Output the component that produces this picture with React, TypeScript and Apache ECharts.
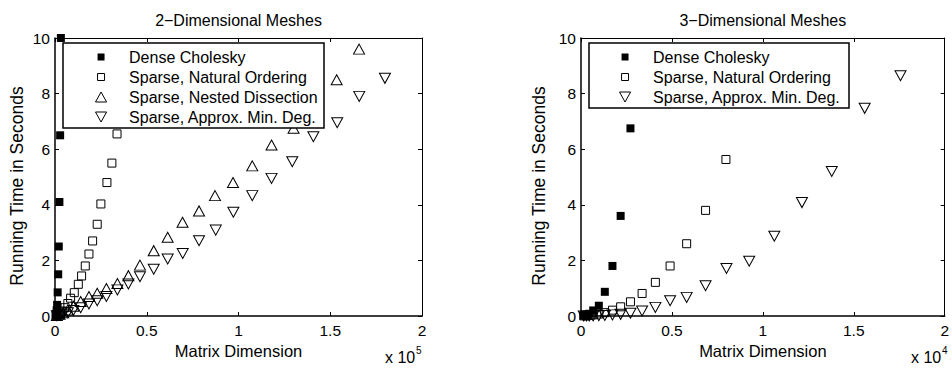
import React, { useEffect, useRef } from "react";
import * as echarts from "echarts";

// ---------- data ----------
const X_TICK_STEP = 0.5; // in units of the axis multiplier
const X_MAX = 2;
const Y_MAX = 10;
const Y_TICK_STEP = 2;

const TITLES = ["2\u2212Dimensional Meshes", "3\u2212Dimensional Meshes"];
const X_NAME = "Matrix Dimension";
const Y_NAME = "Running Time in Seconds";
const SCALES = [1e5, 1e4];
const EXPONENTS = ["5", "4"];

const SERIES_NAMES = [
  "Dense Cholesky",
  "Sparse, Natural Ordering",
  "Sparse, Nested Dissection",
  "Sparse, Approx. Min. Deg.",
];

// 2-D meshes: matrix dimension, running time (s)
const dense2dN = [300, 500, 700, 900, 1150, 1450, 1750, 2050, 2400, 2800, 3200];
const dense2dT = [0.01, 0.03, 0.08, 0.2, 0.4, 0.85, 1.5, 2.5, 4.1, 6.5, 10];

const natural2dN = [1000, 2000, 3000, 4000, 5500, 7000, 8500, 10500, 12700, 14500, 16500, 18500, 20500, 23000, 25000, 28300, 31000, 33800];
const natural2dT = [0.02, 0.05, 0.1, 0.18, 0.3, 0.45, 0.64, 0.84, 1.14, 1.44, 1.8, 2.23, 2.7, 3.3, 4.03, 4.8, 5.5, 6.55];

const nested2dN = [1000, 2500, 4500, 7000, 10000, 14000, 18500, 23000, 28000, 34000, 40000, 46300, 53800, 61400, 69500, 78500, 87200, 97000, 107500, 118000, 130000, 142000, 153500, 165700];
const nested2dT = [0.02, 0.06, 0.12, 0.22, 0.35, 0.52, 0.7, 0.82, 0.99, 1.17, 1.45, 1.83, 2.35, 2.83, 3.37, 3.78, 4.33, 4.8, 5.4, 6.15, 6.75, 7.6, 8.5, 9.6];

const amd2dN = [1000, 2500, 4500, 7000, 10000, 14000, 18500, 23000, 28000, 34000, 40000, 46300, 53800, 61400, 69600, 78500, 87600, 97200, 107500, 118000, 129300, 140800, 153800, 165800, 179800];
const amd2dT = [0.01, 0.03, 0.07, 0.12, 0.2, 0.3, 0.43, 0.55, 0.7, 0.94, 1.15, 1.41, 1.68, 2.05, 2.25, 2.71, 3.09, 3.73, 4.33, 4.95, 5.55, 6.45, 6.95, 7.9, 8.55];

// 3-D meshes
const dense3dN = [150, 300, 450, 670, 980, 1310, 1730, 2180, 2720];
const dense3dT = [0.01, 0.03, 0.08, 0.2, 0.37, 0.87, 1.8, 3.6, 6.75];

const natural3dN = [150, 300, 450, 670, 980, 1310, 1730, 2180, 2720, 3360, 4090, 4900, 5810, 6850, 7970];
const natural3dT = [0.005, 0.01, 0.02, 0.04, 0.07, 0.12, 0.21, 0.33, 0.51, 0.81, 1.21, 1.8, 2.6, 3.8, 5.63];

const amd3dN = [150, 300, 450, 670, 980, 1310, 1730, 2180, 2720, 3360, 4090, 4900, 5810, 6850, 8000, 9250, 10630, 12150, 13790, 15600, 17570];
const amd3dT = [0, 0, 0, 0.005, 0.01, 0.02, 0.04, 0.06, 0.1, 0.18, 0.31, 0.55, 0.67, 1.09, 1.71, 1.97, 2.87, 4.08, 5.2, 7.47, 8.64];

// ---------- helpers ----------
const zip = (xs: number[], ys: number[]) => xs.map((x, i) => [x, ys[i]]);
const FONT = "'Liberation Sans', Arial, Helvetica, sans-serif";
const BLACK = "#000";

const SQUARE = "path://M0,0h10v10h-10z";
const SQUARE_LEGEND = "path://M-1.5,-1.5M0,0h7v7h-7zM8.5,8.5";
const TRI_UP = "path://M5,0L10,9L0,9Z";
const TRI_DOWN = "path://M0,0L10,0L5,9Z";

const openStyle = { color: "rgba(0,0,0,0)", borderColor: BLACK, borderWidth: 1, opacity: 1 };

const SYMBOLS: Record<string, any> = {
  [SERIES_NAMES[0]]: { symbol: SQUARE, symbolSize: 8, itemStyle: { color: BLACK, opacity: 1 } },
  [SERIES_NAMES[1]]: { symbol: SQUARE, symbolSize: 8, itemStyle: openStyle },
  [SERIES_NAMES[2]]: { symbol: TRI_UP, symbolSize: [11, 10], itemStyle: openStyle },
  [SERIES_NAMES[3]]: { symbol: TRI_DOWN, symbolSize: [11, 10], itemStyle: openStyle },
};

const LEGEND_ICONS: Record<string, string> = {
  [SERIES_NAMES[0]]: SQUARE_LEGEND,
  [SERIES_NAMES[1]]: SQUARE_LEGEND,
  [SERIES_NAMES[2]]: TRI_UP,
  [SERIES_NAMES[3]]: TRI_DOWN,
};

const GRIDS = [
  { left: 55, top: 38, width: 367, height: 278 },
  { left: 581, top: 38, width: 367, height: 278 },
];
const Y_NAME_GAPS = [29, 33];

export default function App() {
  const ref = useRef<HTMLDivElement>(null);

  useEffect(() => {
    if (!ref.current) return;
    const chart = echarts.init(ref.current, undefined, { renderer: "svg" });

    const xAxis: any[] = [];
    const yAxis: any[] = [];
    GRIDS.forEach((_, gi) => {
      const s = SCALES[gi];
      const common = {
        gridIndex: gi,
        type: "value",
        min: 0,
        max: X_MAX * s,
        interval: X_TICK_STEP * s,
        splitLine: { show: false },
        axisTick: { inside: true, length: 4, lineStyle: { color: BLACK, width: 1 } },
      };
      xAxis.push({
        ...common,
        position: "bottom",
        axisLine: { onZero: false, lineStyle: { color: BLACK, width: 1.5 } },
        axisLabel: {
          color: BLACK,
          fontSize: 15.5,
          fontFamily: FONT,
          margin: 6,
          formatter: (v: number) => String(Math.round((v / s) * 10) / 10),
        },
        name: X_NAME,
        nameLocation: "middle",
        nameGap: 25,
        nameTextStyle: { color: BLACK, fontSize: 16.5, fontFamily: FONT },
      });
      xAxis.push({
        ...common,
        position: "top",
        axisLine: { onZero: false, lineStyle: { color: BLACK, width: 1 } },
        axisLabel: { show: false },
        name: TITLES[gi],
        nameLocation: "middle",
        nameGap: 10,
        nameTextStyle: { color: BLACK, fontSize: 16, fontFamily: FONT },
      });
      const ycommon = {
        gridIndex: gi,
        type: "value",
        min: 0,
        max: Y_MAX,
        interval: Y_TICK_STEP,
        splitLine: { show: false },
        axisTick: { inside: true, length: 4, lineStyle: { color: BLACK, width: 1 } },
      };
      yAxis.push({
        ...ycommon,
        position: "left",
        axisLine: { onZero: false, lineStyle: { color: BLACK, width: 1.5 } },
        axisLabel: { color: BLACK, fontSize: 15.5, fontFamily: FONT, margin: 5 },
        name: Y_NAME,
        nameLocation: "middle",
        nameGap: Y_NAME_GAPS[gi],
        nameTextStyle: { color: BLACK, fontSize: 17.5, fontFamily: FONT, padding: [0, 18, 0, 0] },
      });
      yAxis.push({
        ...ycommon,
        position: "right",
        axisLine: { onZero: false, lineStyle: { color: BLACK, width: 1 } },
        axisLabel: { show: false },
      });
    });

    const mk = (name: string, gi: number, xs: number[], ys: number[]) => ({
      type: "scatter",
      name,
      xAxisIndex: gi * 2,
      yAxisIndex: gi * 2,
      data: zip(xs, ys),
      clip: false,
      silent: true,
      z: 2,
      ...SYMBOLS[name],
    });

    const series = [
      mk(SERIES_NAMES[0], 0, dense2dN, dense2dT),
      mk(SERIES_NAMES[1], 0, natural2dN, natural2dT),
      mk(SERIES_NAMES[2], 0, nested2dN, nested2dT),
      mk(SERIES_NAMES[3], 0, amd2dN, amd2dT),
      mk(SERIES_NAMES[0], 1, dense3dN, dense3dT),
      mk(SERIES_NAMES[1], 1, natural3dN, natural3dT),
      mk(SERIES_NAMES[3], 1, amd3dN, amd3dT),
    ];

    const legendBase = {
      orient: "vertical",
      top: 47,
      itemWidth: 46,
      itemHeight: 10,
      itemGap: 0,
      padding: 0,
      selectedMode: false,
      itemStyle: { borderWidth: 1 },
      textStyle: { color: BLACK, fontSize: 16, fontFamily: FONT, lineHeight: 20 },
      z: 5,
    };
    const legendData = (names: string[]) => names.map((n) => ({ name: n, icon: LEGEND_ICONS[n] }));

    const frameStyle = { fill: "#fff", stroke: BLACK, lineWidth: 1.5 };
    const expText = (x: number, exp: string) => [
      {
        type: "text",
        x,
        y: 357,
        z: 5,
        style: { text: "x 10", fontSize: 16, fontFamily: FONT, fill: BLACK, verticalAlign: "middle" },
      },
      {
        type: "text",
        x: x + 31,
        y: 350,
        z: 5,
        style: { text: exp, fontSize: 10, fontFamily: FONT, fill: BLACK, verticalAlign: "middle" },
      },
    ];

    chart.setOption({
      animation: false,
      backgroundColor: "#fff",
      grid: GRIDS.map((g) => ({ ...g, containLabel: false })),
      xAxis,
      yAxis,
      series,
      legend: [
        { ...legendBase, left: 95, data: legendData(SERIES_NAMES) },
        { ...legendBase, left: 619, data: legendData([SERIES_NAMES[0], SERIES_NAMES[1], SERIES_NAMES[3]]) },
      ],
      graphic: [
        { type: "rect", z: 3, shape: { x: 63, y: 43, width: 261, height: 85 }, style: frameStyle },
        { type: "rect", z: 3, shape: { x: 589, y: 43, width: 260, height: 65 }, style: frameStyle },
        ...expText(385, EXPONENTS[0]),
        ...expText(911, EXPONENTS[1]),
      ],
    });

    return () => chart.dispose();
  }, []);

  return (
    <div
      ref={ref}
      style={{ position: "absolute", left: 0, top: 0, width: 952, height: 370 }}
    />
  );
}
